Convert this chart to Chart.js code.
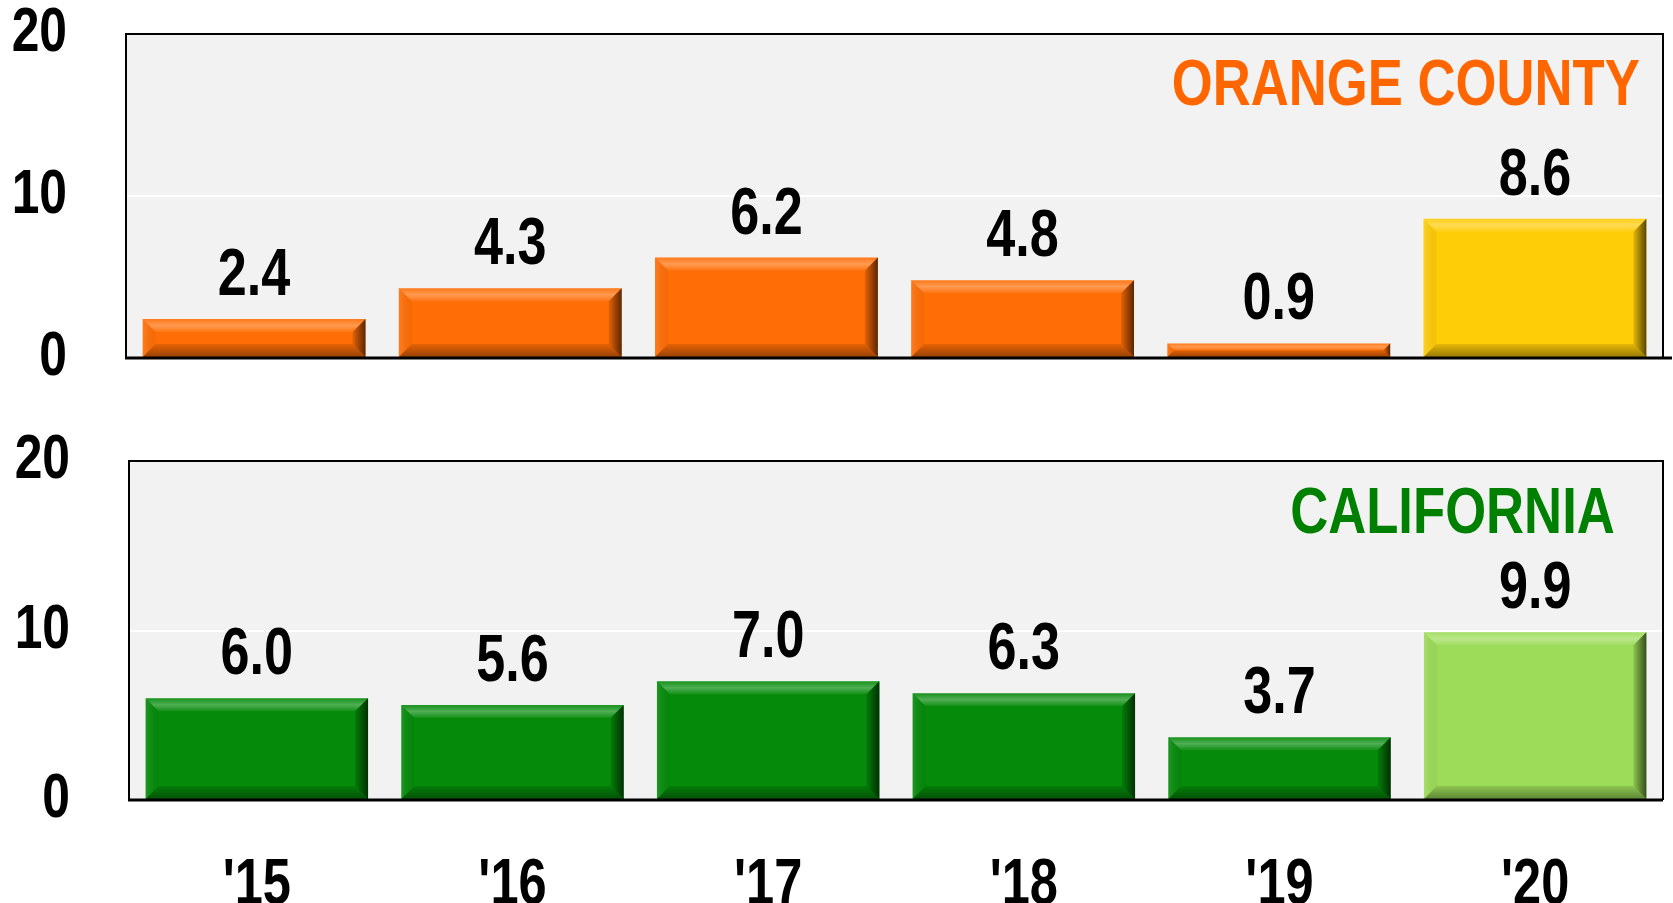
<!DOCTYPE html>
<html>
<head>
<meta charset="utf-8">
<script src="https://cdn.jsdelivr.net/npm/chart.js@4.4.1/dist/chart.umd.min.js"></script>
<style>
  html, body { margin: 0; padding: 0; background: #fff; }
  #wrap { position: relative; width: 1673px; height: 903px; overflow: hidden; }
  .box { position: absolute; left: 0; width: 1673px; }
  .tag {
    position: absolute; font-family: 'Liberation Sans', Arial, sans-serif;
    font-weight: bold; font-size: 65px; line-height: 1; white-space: nowrap;
    transform: scaleX(0.81); transform-origin: right top;
  }
  #ocTag { right: 33px; top: 50px; color: #FF6600; }
  #caTag { right: 58px; top: 478px; color: #008000; }
</style>
</head>
<body>
<div id="wrap">
  <div class="box" style="top:0;height:400px"><canvas id="ocChart"></canvas></div>
  <div class="box" style="top:400px;height:503px"><canvas id="caChart"></canvas></div>
  <div class="tag" id="ocTag">ORANGE COUNTY</div>
  <div class="tag" id="caTag">CALIFORNIA</div>
</div>
<script>
// ==================== DATA ====================
const years = ["'15", "'16", "'17", "'18", "'19", "'20"];
const orangeCounty = [2.4, 4.3, 6.2, 4.8, 0.9, 8.6];
const california = [6.0, 5.6, 7.0, 6.3, 3.7, 9.9];
const yTicks = [0, 10, 20];

const ocColors = ['#FF6E06', '#FF6E06', '#FF6E06', '#FF6E06', '#FF6E06', '#FFCC08'];
const caColors = ['#058A0A', '#058A0A', '#058A0A', '#058A0A', '#058A0A', '#9CDC58'];

const FONT = "'Liberation Sans', Arial, sans-serif";
const NARROW = 0.79; // no narrow font installed, squeeze the bold face instead

// ==================== HELPERS ====================
function narrowText(ctx, k) {
    const fill = ctx.fillText.bind(ctx);
    ctx.fillText = (text, x, y, maxWidth) => {
        const w = ctx.measureText(text).width * k;
        fill(text, x, y, maxWidth === undefined ? w : Math.min(w, maxWidth));
    };
}

function poly(ctx, pts, fill) {
    ctx.beginPath();
    ctx.moveTo(pts[0][0], pts[0][1]);
    for (let i = 1; i < pts.length; i++) ctx.lineTo(pts[i][0], pts[i][1]);
    ctx.closePath();
    ctx.fillStyle = fill;
    ctx.fill();
}

// ==================== PLUGINS ====================
// plot background + frame
const framePlugin = {
    id: 'frame',
    beforeDraw(chart) {
        const a = chart.chartArea, ctx = chart.ctx;
        ctx.save();
        ctx.fillStyle = '#F2F2F2';
        ctx.fillRect(a.left, a.top, a.right - a.left, a.bottom - a.top);
        ctx.restore();
    },
    afterDatasetsDraw(chart, args, opts) {
        const a = chart.chartArea, ctx = chart.ctx;
        ctx.save();
        ctx.strokeStyle = '#000';
        ctx.lineWidth = 2;
        ctx.beginPath();
        ctx.moveTo(a.left, a.bottom);
        ctx.lineTo(a.left, a.top);
        ctx.lineTo(a.right, a.top);
        ctx.lineTo(a.right, a.bottom);
        ctx.stroke();
        ctx.lineWidth = 3;
        ctx.beginPath();
        ctx.moveTo(a.left - 1, a.bottom);
        ctx.lineTo(a.right + (opts.extend || 0), a.bottom);
        ctx.stroke();
        ctx.restore();
    }
};

// bevel look on the bars + value labels
const bevelPlugin = {
    id: 'bevel',
    afterDatasetsDraw(chart) {
        const ctx = chart.ctx;
        const ds = chart.data.datasets[0];
        ctx.save();
        chart.getDatasetMeta(0).data.forEach((bar, i) => {
            const p = bar.getProps(['x', 'y', 'base', 'width'], true);
            const l = p.x - p.width / 2, r = p.x + p.width / 2, t = p.y, b = p.base;
            const d = Math.min(13, (b - t) / 2);

            let g = ctx.createLinearGradient(0, t, 0, t + d);
            g.addColorStop(0, 'rgba(255,255,255,0.08)');
            g.addColorStop(0.5, 'rgba(255,255,255,0.30)');
            g.addColorStop(1, 'rgba(255,255,255,0.05)');
            poly(ctx, [[l, t], [r, t], [r - d, t + d], [l + d, t + d]], g);

            g = ctx.createLinearGradient(l, 0, l + d, 0);
            g.addColorStop(0, 'rgba(255,255,255,0.10)');
            g.addColorStop(1, 'rgba(0,0,0,0.04)');
            poly(ctx, [[l, t], [l + d, t + d], [l + d, b - d], [l, b]], g);

            g = ctx.createLinearGradient(r - d, 0, r, 0);
            g.addColorStop(0, 'rgba(0,0,0,0.10)');
            g.addColorStop(1, 'rgba(0,0,0,0.65)');
            poly(ctx, [[r, t], [r, b], [r - d, b - d], [r - d, t + d]], g);

            g = ctx.createLinearGradient(0, b - d, 0, b);
            g.addColorStop(0, 'rgba(0,0,0,0.10)');
            g.addColorStop(1, 'rgba(0,0,0,0.40)');
            poly(ctx, [[l, b], [r, b], [r - d, b - d], [l + d, b - d]], g);

            ctx.fillStyle = '#000';
            ctx.font = 'bold 66px ' + FONT;
            ctx.textAlign = 'center';
            ctx.textBaseline = 'alphabetic';
            ctx.fillText(ds.data[i].toFixed(1), p.x, t - 24);
        });
        ctx.restore();
    }
};

// ==================== CHART BUILDER ====================
function makeChart(id, values, colors, dims) {
    const ctx = document.getElementById(id).getContext('2d');
    narrowText(ctx, NARROW);
    return new Chart(ctx, {
        type: 'bar',
        data: {
            labels: years,
            datasets: [{
                data: values,
                backgroundColor: colors,
                borderWidth: 0,
                barPercentage: 0.87,
                categoryPercentage: 1.0
            }]
        },
        options: {
            responsive: true,
            maintainAspectRatio: false,
            animation: false,
            layout: { padding: { top: dims.top, right: dims.right, left: 0, bottom: 0 } },
            plugins: {
                legend: { display: false },
                tooltip: { enabled: false },
                frame: { extend: dims.extend }
            },
            scales: {
                x: {
                    grid: { display: false },
                    border: { display: false },
                    ticks: {
                        display: dims.showX,
                        padding: 40,
                        color: '#000',
                        font: { family: FONT, size: 64, weight: 'bold' }
                    },
                    afterFit(scale) { scale.height = dims.xHeight; }
                },
                y: {
                    min: 0,
                    max: 20,
                    afterBuildTicks(scale) { scale.ticks = yTicks.map(v => ({ value: v })); },
                    grid: { color: '#FFFFFF', lineWidth: 2, drawTicks: false },
                    border: { display: false },
                    ticks: {
                        padding: 59,
                        color: '#000',
                        font: { family: FONT, size: 63, weight: 'bold' }
                    },
                    afterFit(scale) {
                        scale.width = dims.left;
                        scale.paddingTop = 0;
                        scale.paddingBottom = 0;
                    }
                }
            }
        },
        plugins: [framePlugin, bevelPlugin]
    });
}

makeChart('ocChart', orangeCounty, ocColors, { top: 34, right: 10, left: 126, xHeight: 42, showX: false, extend: 9 });
makeChart('caChart', california, caColors, { top: 61, right: 10, left: 129, xHeight: 103, showX: true, extend: 0 });
</script>
</body>
</html>
